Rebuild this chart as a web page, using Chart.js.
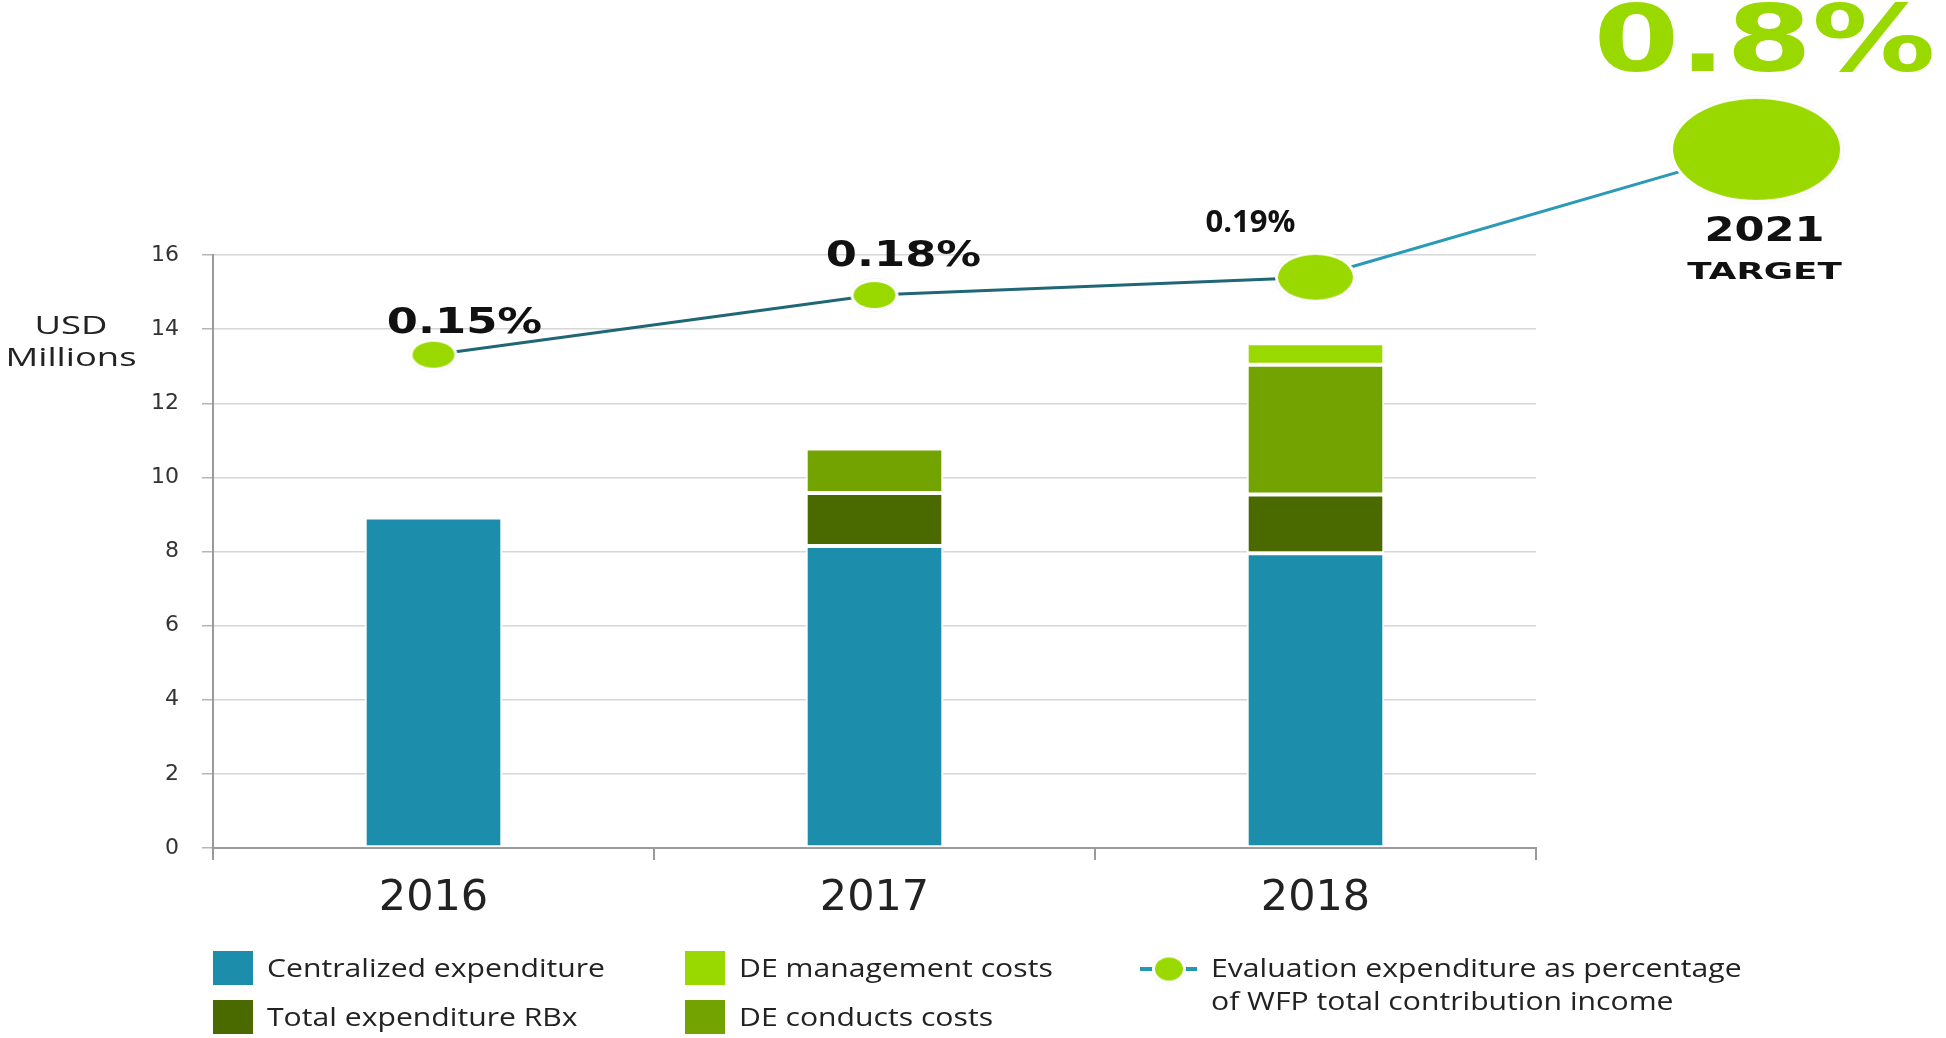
<!DOCTYPE html>
<html>
<head>
<meta charset="utf-8">
<script src="https://cdn.jsdelivr.net/npm/chart.js@4.4.1/dist/chart.umd.min.js"></script>
<style>
  html, body { margin: 0; padding: 0; background: #fff; }
  #wrap { width: 1946px; height: 1038px; }
</style>
</head>
<body>
<div id="wrap"><canvas id="evalChart" width="1946" height="1038"></canvas></div>
<script>
// values (USD millions)
const years = ['2016', '2017', '2018'];
const centralized = [8.92, 8.15, 7.95];
const totalRBx = [null, 1.43, 1.59];
const deConducts = [null, 1.2, 3.5];
const deManagement = [null, null, 0.58];
const yTicks = [0, 2, 4, 6, 8, 10, 12, 14, 16];

// evaluation expenditure as % of WFP income - marker heights on the USD axis
// slot 3 is the 2021 target, sitting one slot past 2018
const pctSlots = [0, 1, 2, 3];
const pctHeights = [13.31, 14.92, 15.40, 18.85];
const pctLabels = ['0.15%', '0.18%', '0.19%', '0.8%'];

const TEAL = '#1c8eab';
const OLIVE = '#4a6a00';
const MID_GREEN = '#72a300';
const LIME = '#99d900';

// green dots are squashed ellipses in the original
function ellipse(w, h) {
    const c = document.createElement('canvas');
    c.width = w + 10;
    c.height = h + 10;
    const g = c.getContext('2d');
    const cx = c.width / 2, cy = c.height / 2;
    g.beginPath();
    g.ellipse(cx, cy, w / 2 + 4, h / 2 + 4, 0, 0, Math.PI * 2);
    g.fillStyle = 'rgba(0,0,0,0.04)';
    g.fill();
    g.beginPath();
    g.ellipse(cx, cy, w / 2 + 3, h / 2 + 3, 0, 0, Math.PI * 2);
    g.fillStyle = '#fff';
    g.fill();
    g.beginPath();
    g.ellipse(cx, cy, w / 2, h / 2, 0, 0, Math.PI * 2);
    g.fillStyle = LIME;
    g.fill();
    return c;
}
const markers = [ellipse(42, 26), ellipse(42, 26), ellipse(75, 45), ellipse(167, 101)];
const legendDot = ellipse(28, 23);

// label look, relative to its marker
const pctLabelStyle = [
    { dx: 31, dy: -22, font: 'bold 35px "DejaVu Sans"', sx: 1.28, color: '#111' },
    { dx: 29, dy: -29, font: 'bold 35px "DejaVu Sans"', sx: 1.28, color: '#111' },
    { dx: -65, dy: -45, font: 'bold 31px "Open Sans"', sx: 1.0, color: '#111' },
    { dx: 8, dy: -78, font: 'bold 92px "DejaVu Sans"', sx: 1.34, color: LIME }
];

function txt(ctx, s, x, y, font, color, sx, align) {
    ctx.save();
    ctx.font = font;
    ctx.fillStyle = color;
    ctx.textAlign = align || 'center';
    ctx.textBaseline = 'alphabetic';
    ctx.translate(x, y);
    ctx.scale(sx, 1);
    ctx.fillText(s, 0, 0);
    ctx.restore();
}

const extras = {
    id: 'extras',
    afterDatasetsDraw(chart) {
        const ctx = chart.ctx;
        const pts = chart.getDatasetMeta(4).data;
        pts.forEach((p, i) => {
            const st = pctLabelStyle[i];
            txt(ctx, pctLabels[i], p.x + st.dx, p.y + st.dy, st.font, st.color, st.sx);
        });
        const t = pts[3];
        txt(ctx, '2021', t.x + 8, t.y + 92, 'bold 34px "DejaVu Sans"', '#111', 1.27);
        txt(ctx, 'TARGET', t.x + 8, t.y + 130, 'bold 23px "DejaVu Sans"', '#111', 1.55);

        // y-axis title, horizontal
        txt(ctx, 'USD', 71, 334, '26px "Open Sans"', '#222', 1.4);
        txt(ctx, 'Millions', 71, 366, '26px "Open Sans"', '#222', 1.4);

        // legend: two rows, three columns
        const slots = [[213, 951], [213, 1000], [685, 1000], [685, 951]];
        const lf = '26px "Open Sans"';
        chart.data.datasets.slice(0, 4).forEach((ds, i) => {
            const [x, y] = slots[i];
            ctx.fillStyle = ds.backgroundColor;
            ctx.fillRect(x, y, 40, 34);
            txt(ctx, ds.label, x + 54, y + 26, lf, '#222', 1.16, 'left');
        });
        const line = chart.data.datasets[4];
        ctx.save();
        ctx.strokeStyle = '#2596b3';
        ctx.lineWidth = 4;
        ctx.beginPath();
        ctx.moveTo(1140, 969);
        ctx.lineTo(1197, 969);
        ctx.stroke();
        ctx.restore();
        ctx.drawImage(legendDot, 1169 - legendDot.width / 2, 969 - legendDot.height / 2);
        line.label.forEach((s, k) => txt(ctx, s, 1211, 977 + k * 33, lf, '#222', 1.16, 'left'));
    }
};

const ctx = document.getElementById('evalChart').getContext('2d');
const barBase = {
    type: 'bar',
    stack: 'costs',
    grouped: false,
    borderColor: '#ffffff',
    borderWidth: 2,
    borderSkipped: false,
    barPercentage: 0.312,
    categoryPercentage: 1.0,
    order: 1
};

const evalChart = new Chart(ctx, {
    data: {
        labels: years,
        datasets: [
            { ...barBase, label: 'Centralized expenditure', data: centralized, backgroundColor: TEAL },
            { ...barBase, label: 'Total expenditure RBx', data: totalRBx, backgroundColor: OLIVE },
            { ...barBase, label: 'DE conducts costs', data: deConducts, backgroundColor: MID_GREEN },
            { ...barBase, label: 'DE management costs', data: deManagement, backgroundColor: LIME },
            {
                type: 'line',
                label: ['Evaluation expenditure as percentage', 'of WFP total contribution income'],
                data: pctSlots.map((s, i) => ({ x: s, y: pctHeights[i] })),
                xAxisID: 'xl',
                yAxisID: 'y',
                order: 0,
                clip: false,
                borderWidth: 3,
                borderColor: '#1f6676',
                segment: {
                    borderColor: c => c.p1DataIndex === 3 ? '#2a9ab6' : '#1f6676'
                },
                pointStyle: c => markers[c.dataIndex],
                pointRadius: 400,
                tension: 0
            }
        ]
    },
    options: {
        responsive: false,
        animation: false,
        events: [],
        layout: { autoPadding: false, padding: { top: 255, right: 410, left: 0, bottom: 0 } },
        plugins: {
            legend: { display: false },
            tooltip: { enabled: false }
        },
        scales: {
            x: {
                stacked: true,
                afterFit: s => { s.height = 190; },
                ticks: {
                    color: '#222',
                    padding: 13,
                    font: { family: 'DejaVu Sans', size: 43 }
                },
                grid: {
                    offset: true,
                    drawOnChartArea: false,
                    tickLength: 12,
                    color: '#9a9a9a',
                    lineWidth: 2
                },
                border: { color: '#9a9a9a', width: 2 }
            },
            xl: {
                type: 'linear',
                display: false,
                afterDataLimits: s => { s.min = -0.5; s.max = years.length - 0.5; }
            },
            y: {
                stacked: true,
                min: 0,
                max: 16,
                afterFit: s => { s.width = 213; },
                afterBuildTicks: s => { s.ticks = yTicks.map(v => ({ value: v })); },
                ticks: {
                    color: '#333',
                    padding: 23,
                    font: { family: 'DejaVu Sans', size: 22 }
                },
                grid: {
                    color: '#d6d6d6',
                    lineWidth: 1.5,
                    tickLength: 11,
                    tickColor: '#b5b5b5'
                },
                border: { color: '#9a9a9a', width: 2 }
            }
        }
    },
    plugins: [extras]
});
</script>
</body>
</html>
